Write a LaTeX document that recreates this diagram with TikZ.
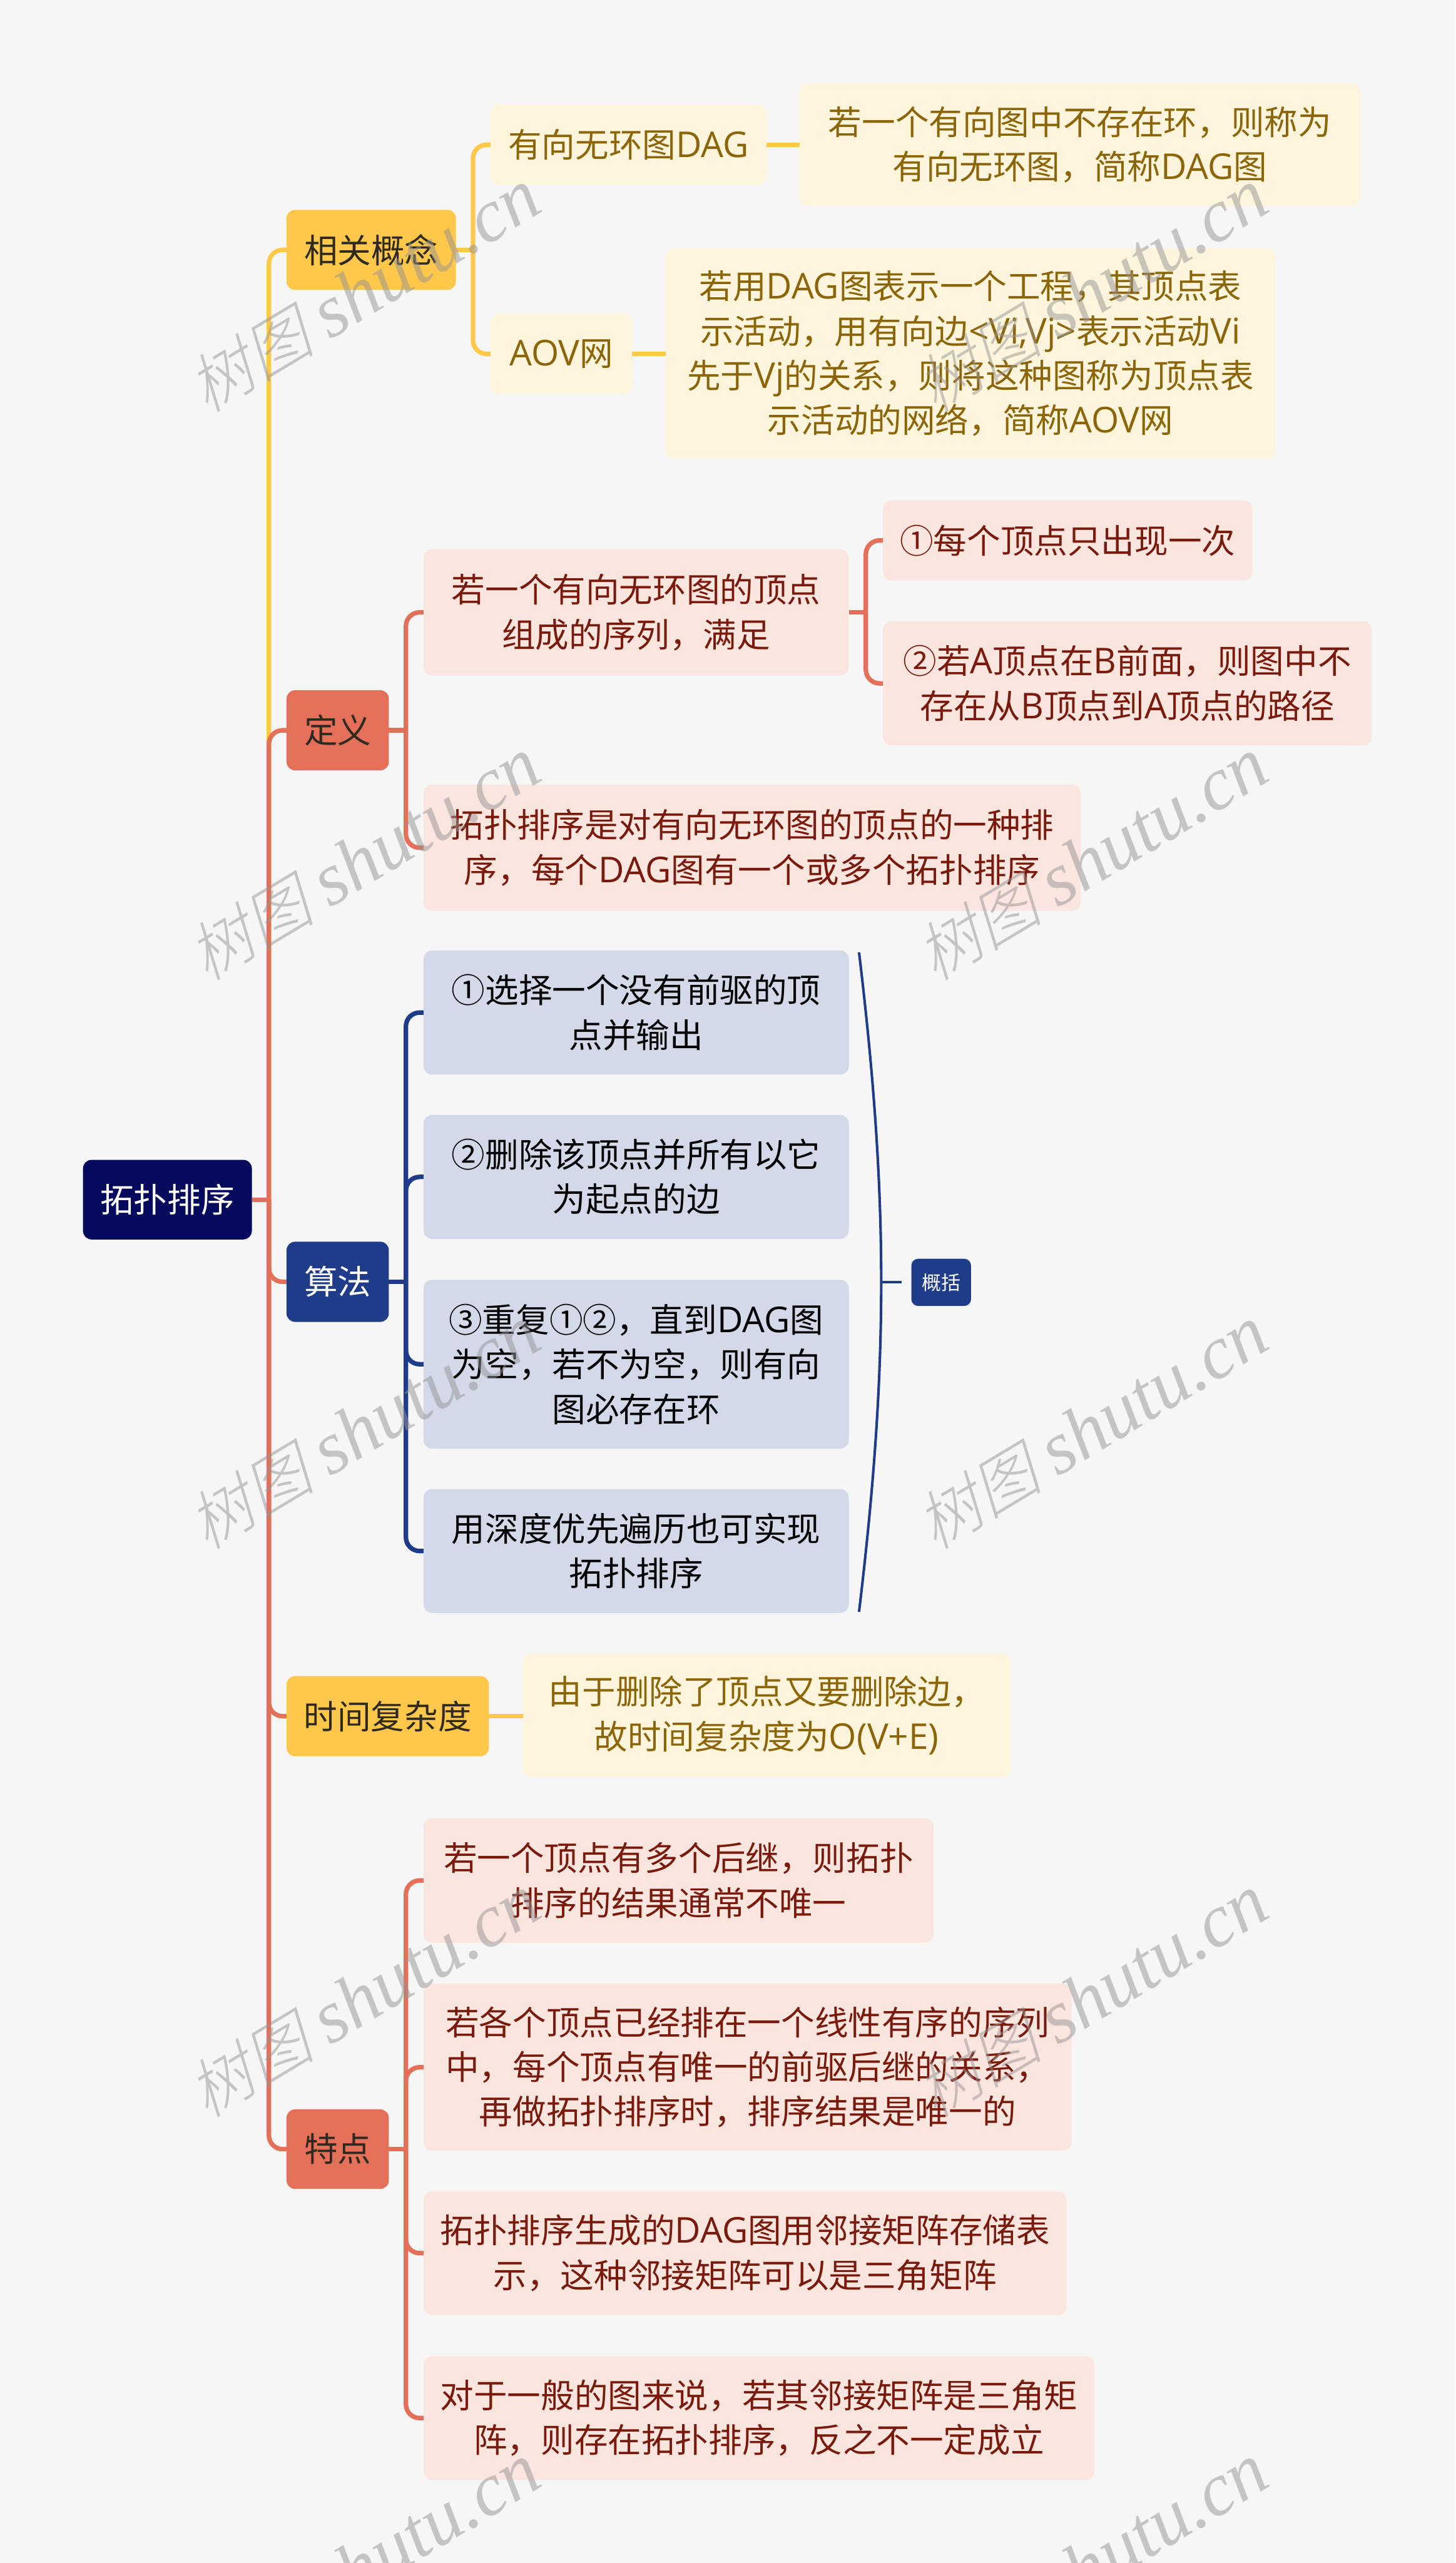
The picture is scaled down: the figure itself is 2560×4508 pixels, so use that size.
\documentclass[tikz,border=0pt]{standalone}
\usepackage{fontspec}
\setmainfont{Noto Sans CJK SC}
\newfontfamily\cjkmain{Noto Sans CJK SC}
\newfontfamily\wmcjk[FakeSlant=0.25,Scale=0.92]{Noto Sans CJK SC Light}
\newfontfamily\wmlat[Scale=1.08]{Liberation Serif}
\newfontfamily\latf[Scale=1.06]{Open Sans}
\newcommand{\lat}[1]{{\latf #1}}
\usetikzlibrary{calc}
\definecolor{pagebg}{HTML}{F6F6F6}
\definecolor{yel}{HTML}{FFC84A}
\definecolor{yellight}{HTML}{FFF5DD}
\definecolor{yeltext}{HTML}{8C6508}
\definecolor{redd}{HTML}{E5705A}
\definecolor{redlight}{HTML}{FBE5DF}
\definecolor{redtext}{HTML}{7A1A0C}
\definecolor{navy}{HTML}{1E3C8A}
\definecolor{navylight}{HTML}{D3D9E9}
\definecolor{rootcol}{HTML}{060A5C}
\definecolor{darktext}{HTML}{2E2A20}
\tikzset{
  x=1pt,y=-1pt,
  nodebase/.style={anchor=north west,inner sep=0pt,outer sep=0pt,rounded corners=15pt,align=center,
    font=\cjkmain\fontsize{59}{78.5}\selectfont},
  rootbox/.style={nodebase,fill=rootcol,text=white},
  mainyel/.style={nodebase,fill=yel,text=darktext},
  mainred/.style={nodebase,fill=redd,text=darktext},
  mainnavy/.style={nodebase,fill=navy,text=white},
  subyel/.style={nodebase,fill=yellight,text=yeltext},
  subred/.style={nodebase,fill=redlight,text=redtext},
  subnavy/.style={nodebase,fill=navylight,text=black},
  sumbox/.style={nodebase,rounded corners=12pt,fill=navy,text=white,font=\cjkmain\fontsize{34}{40}\selectfont},
  yelline/.style={draw=yel,line width=8pt,rounded corners=24pt},
  redline/.style={draw=redd,line width=8pt,rounded corners=24pt},
  navyline/.style={draw=navy,line width=8pt,rounded corners=24pt},
  bracket/.style={draw=navy,line width=4.5pt},
  wmark/.style={rotate=31,text=black!42,opacity=0.5,inner sep=0pt,
    font=\fontsize{122}{128}\selectfont},
}
\newcommand{\bx}[7]{% style, name, x0, y0, x1, y1, text
  \node[#1,minimum width={#5-#3},minimum height={#6-#4},text width={#5-#3}] (#2) at (#3,#4) {#7};}
\begin{document}
\begin{tikzpicture}
\useasboundingbox (0,0) rectangle (2560,4508);
\fill[pagebg] (0,0) rectangle (2560,4508);

\bx{rootbox}{root}{146}{2040}{443}{2180}{拓扑排序}

\bx{mainyel}{gainian}{504}{369}{802}{510}{相关概念}
\bx{subyel}{dag}{863}{184}{1348}{325}{有向无环图\lat{DAG}}
\bx{subyel}{dagd}{1406}{147}{2393}{362}{若一个有向图中不存在环，则称为\\有向无环图，简称\lat{DAG}图}
\bx{subyel}{aov}{863}{552}{1112}{693}{\lat{AOV}网}
\bx{subyel}{aovd}{1171}{437}{2243}{807}{若用\lat{DAG}图表示一个工程，其顶点表\\示活动，用有向边\lat{<Vi,Vj>}表示活动\lat{Vi}\\先于\lat{Vj}的关系，则将这种图称为顶点表\\示活动的网络，简称\lat{AOV}网}

\bx{mainred}{dingyi}{504}{1214}{684}{1355}{定义}
\bx{subred}{dy1}{745}{966}{1493}{1188}{若一个有向无环图的顶点\\组成的序列，满足}
\bx{subred}{dy1a}{1553}{880}{2203}{1021}{①每个顶点只出现一次}
\bx{subred}{dy1b}{1553}{1093}{2413}{1311}{②若\lat{A}顶点在\lat{B}前面，则图中不\\存在从\lat{B}顶点到\lat{A}顶点的路径}
\bx{subred}{dy2}{745}{1380}{1901}{1602}{拓扑排序是对有向无环图的顶点的一种排\\序，每个\lat{DAG}图有一个或多个拓扑排序}

\bx{mainnavy}{suanfa}{504}{2184}{684}{2325}{算法}
\bx{subnavy}{sf1}{745}{1672}{1493}{1890}{①选择一个没有前驱的顶\\点并输出}
\bx{subnavy}{sf2}{745}{1961}{1493}{2179}{②删除该顶点并所有以它\\为起点的边}
\bx{subnavy}{sf3}{745}{2251}{1493}{2548}{③重复①②，直到\lat{DAG}图\\为空，若不为空，则有向\\图必存在环}
\bx{subnavy}{sf4}{745}{2619}{1493}{2837}{用深度优先遍历也可实现\\拓扑排序}
\bx{sumbox}{gaikuo}{1603}{2214}{1708}{2297}{概括}

\bx{mainyel}{shijian}{504}{2948}{860}{3089}{时间复杂度}
\bx{subyel}{sjd}{920}{2908}{1777}{3126}{由于删除了顶点又要删除边，\\故时间复杂度为\lat{O(V+E)}}

\bx{mainred}{tedian}{504}{3710}{684}{3850}{特点}
\bx{subred}{td1}{745}{3198}{1642}{3417}{若一个顶点有多个后继，则拓扑\\排序的结果通常不唯一}
\bx{subred}{td2}{745}{3489}{1885}{3783}{若各个顶点已经排在一个线性有序的序列\\中，每个顶点有唯一的前驱后继的关系，\\再做拓扑排序时，排序结果是唯一的}
\bx{subred}{td3}{745}{3854}{1876}{4072}{拓扑排序生成的\lat{DAG}图用邻接矩阵存储表\\示，这种邻接矩阵可以是三角矩阵}
\bx{subred}{td4}{745}{4144}{1925}{4362}{对于一般的图来说，若其邻接矩阵是三角矩\\阵，则存在拓扑排序，反之不一定成立}

% trunk columns
\coordinate (t0) at (473,0);
\coordinate (t1) at (832,0);
\coordinate (t2) at (714,0);
\coordinate (t3) at (1523,0);

% root connectors
\draw[redline] (root.east) -- (root.east -| t0);
\draw[yelline] (root.east -| t0) |- (gainian.west);
\draw[redline] (root.east -| t0) |- (dingyi.west);
\draw[redline] (root.east -| t0) |- (shijian.west);
\draw[redline] (root.east -| t0) |- (suanfa.west);
\draw[redline] (root.east -| t0) |- (tedian.west);

% concept branch
\draw[yelline] (gainian.east) -- (gainian.east -| t1);
\draw[yelline] (gainian.east -| t1) |- (dag.west);
\draw[yelline] (gainian.east -| t1) |- (aov.west);
\draw[yelline] (dag.east) -- (dagd.west |- dag.east);
\draw[yelline] (aov.east) -- (aovd.west |- aov.east);

% definition branch
\draw[redline] (dingyi.east) -- (dingyi.east -| t2);
\draw[redline] (dingyi.east -| t2) |- (dy1.west);
\draw[redline] (dingyi.east -| t2) |- (dy2.west);
\draw[redline] (dy1.east) -- (dy1.east -| t3);
\draw[redline] (dy1.east -| t3) |- (dy1a.west);
\draw[redline] (dy1.east -| t3) |- (dy1b.west);

% algorithm branch
\draw[navyline] (suanfa.east) -- (suanfa.east -| t2);
\draw[navyline] (suanfa.east -| t2) |- (sf1.west);
\draw[navyline] (suanfa.east -| t2) |- (sf2.west);
\draw[navyline] (suanfa.east -| t2) |- (sf3.west);
\draw[navyline] (suanfa.east -| t2) |- (sf4.west);

% summary bracket
\coordinate (brtop) at ($(sf1.north east)+(18,3)$);
\coordinate (brbot) at ($(sf4.south east)+(18,-2)$);
\coordinate (brmid) at (1550,2255);
\coordinate (brend) at (1586,2255);
\draw[bracket] (brtop) .. controls (1538,1900) and (1550,2080) .. (brmid)
   .. controls (1550,2430) and (1538,2610) .. (brbot);
\draw[bracket,line width=5pt] (brmid) -- (brend);

% time branch
\draw[yelline] (shijian.east) -- (sjd.west |- shijian.east);

% feature branch
\draw[redline] (tedian.east) -- (tedian.east -| t2);
\draw[redline] (tedian.east -| t2) |- (td1.west);
\draw[redline] (tedian.east -| t2) |- (td2.west);
\draw[redline] (tedian.east -| t2) |- (td3.west);
\draw[redline] (tedian.east -| t2) |- (td4.west);

% watermarks
\begin{scope}
\clip (0,0) rectangle (2560,4508);
\foreach \ii in {0,1,2,3,4}{
  \foreach \jj in {0,1}{
    \node[wmark] (wm\ii\jj) at ({640+1280*\jj},{512+1000*\ii}) {{\wmcjk 树图} {\wmlat\itshape shutu.cn}};
  }
}
\end{scope}
\end{tikzpicture}
\end{document}
